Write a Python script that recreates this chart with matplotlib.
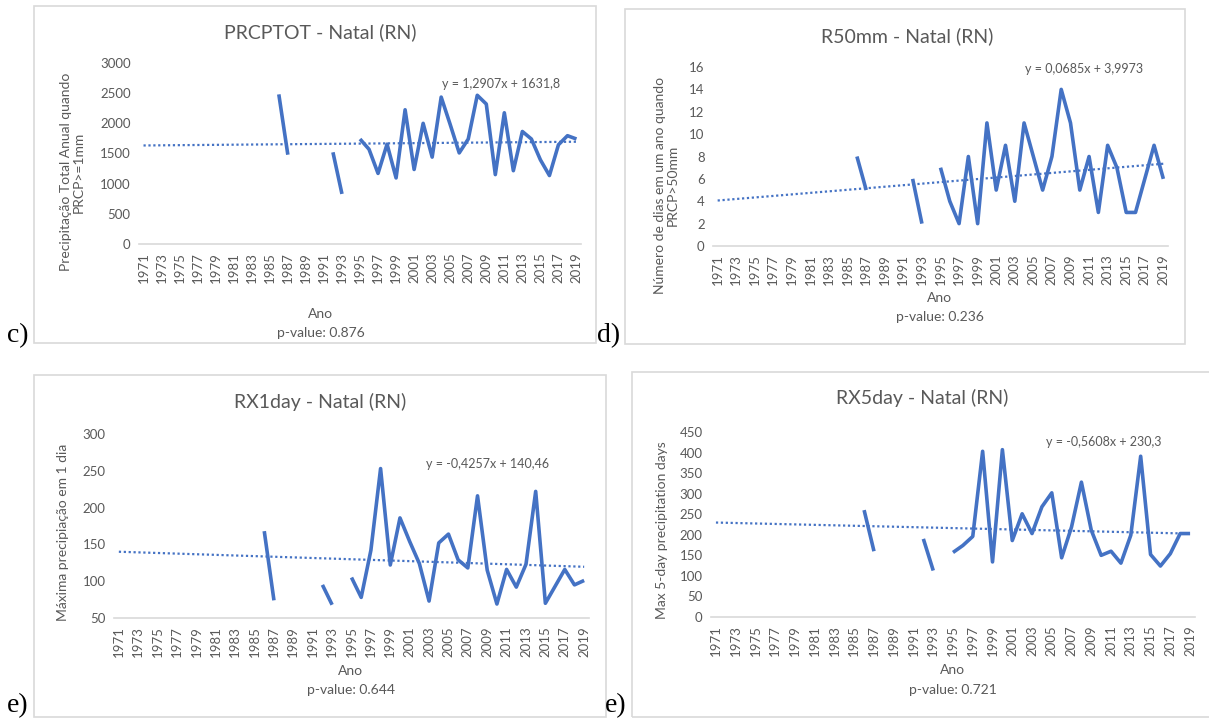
import numpy as np
import matplotlib.pyplot as plt
from matplotlib.patches import Rectangle

# data
years = list(range(1971, 2020))
obs_years = [1986, 1987, 1992, 1993] + list(range(1995, 2020))

prcptot = [2480, 1480, 1520, 830,
           1740, 1570, 1170, 1655, 1095, 2225, 1235, 2000, 1440, 2435, 1980, 1510,
           1740, 2465, 2320, 1150, 2175, 1215, 1865, 1740, 1395, 1135, 1645, 1795, 1740]
r50mm = [8, 5, 6, 2,
         7, 4, 2, 8, 2, 11, 5, 9, 4, 11, 8, 5,
         8, 14, 11, 5, 8, 3, 9, 7, 3, 3, 6, 9, 6]
rx1day = [168, 74, 95, 68,
          105, 78, 142, 253, 122, 186, 154, 124, 73, 152, 164, 129,
          118, 216, 115, 69, 116, 92, 123, 222, 70, 93, 116, 95, 101]
rx5day = [260, 160, 190, 113,
          157, 174, 196, 403, 134, 407, 186, 251, 203, 268, 302, 144,
          219, 328, 211, 150, 160, 131, 199, 391, 152, 124, 154, 203, 203]

panels = [
    dict(title='PRCPTOT - Natal (RN)', values=prcptot, slope=1.2907, icpt=1631.8,
         eq='y = 1,2907x + 1631,8', pval='p-value: 0.876',
         ylabel='Precipitação Total Anual quando\nPRCP>=1mm',
         ylim=(0, 3000), yticks=np.arange(0, 3001, 500)),
    dict(title='R50mm - Natal (RN)', values=r50mm, slope=0.0685, icpt=3.9973,
         eq='y = 0,0685x + 3,9973', pval='p-value: 0.236',
         ylabel='Número de dias em um ano quando\nPRCP>50mm',
         ylim=(0, 16), yticks=np.arange(0, 17, 2)),
    dict(title='RX1day - Natal (RN)', values=rx1day, slope=-0.4257, icpt=140.46,
         eq='y = -0,4257x + 140,46', pval='p-value: 0.644',
         ylabel='Máxima precipiação em 1 dia',
         ylim=(50, 300), yticks=np.arange(50, 301, 50)),
    dict(title='RX5day - Natal (RN)', values=rx5day, slope=-0.5608, icpt=230.3,
         eq='y = -0,5608x + 230,3', pval='p-value: 0.721',
         ylabel='Max 5-day precipitation days',
         ylim=(0, 450), yticks=np.arange(0, 451, 50)),
]

# layout in pixels (x0, x1, ytop, ybottom) for axes, boxes, and text spots
W, H = 1209, 727
axes_px = [(139, 581, 63, 244), (713, 1168, 67, 246), (114, 589, 434, 618), (711, 1195, 432, 617)]
box_px = [(34, 596, 6, 343), (625, 1185, 9, 344), (34, 606, 375, 717), (632, 1215, 372, 717)]
title_px = [(320, 32), (907, 36), (320, 402), (922, 398)]
eq_px = [(501, 84), (1084, 69), (488, 464), (1104, 442)]
ylab_px = [(72, 172), (666, 185), (63, 532), (662, 530)]
ano_px = [(321, 314), (940, 298), (351, 671), (953, 670)]
pval_px = [(321, 333), (940, 317), (351, 690), (953, 690)]
tag_px = [(7, 336, 'c)'), (597, 336, 'd)'), (7, 706, 'e)'), (605, 706, 'e)')]

blue = '#4472C4'
grey = '#595959'
font = 'Lato'

fig = plt.figure(figsize=(W / 100, H / 100), dpi=100)

def fx(x):
    return x / W

def fy(y):
    return 1 - y / H

x_all = np.arange(len(years))
tick_pos = x_all[::2]
tick_lab = [str(y) for y in years[::2]]

for i, p in enumerate(panels):
    bx0, bx1, by0, by1 = box_px[i]
    fig.patches.append(Rectangle((fx(bx0), fy(by1)), fx(bx1 - bx0), (by1 - by0) / H,
                                 transform=fig.transFigure, fill=False,
                                 edgecolor='#D9D9D9', linewidth=1.2))

    x0, x1, y0, y1 = axes_px[i]
    ax = fig.add_axes([fx(x0), fy(y1), fx(x1 - x0), (y1 - y0) / H])

    full = np.full(len(years), np.nan)
    for yr, v in zip(obs_years, p['values']):
        full[years.index(yr)] = v
    ax.plot(x_all, full, color=blue, linewidth=2.6, solid_capstyle='butt')

    trend = p['slope'] * (x_all + 1) + p['icpt']
    ax.plot(x_all, trend, color=blue, linewidth=1.6, linestyle=(0, (1, 1.2)))

    ax.set_xlim(-0.5, len(years) - 0.5)
    ax.set_ylim(*p['ylim'])
    ax.set_yticks(p['yticks'])
    ax.set_yticklabels([str(v) for v in p['yticks']], fontsize=9.5, color=grey, family=font)
    ax.set_xticks(tick_pos)
    ax.set_xticklabels(tick_lab, rotation=90, fontsize=9.5, color=grey, family=font)
    ax.tick_params(length=0, pad=6)
    for s in ['top', 'right', 'left']:
        ax.spines[s].set_visible(False)
    ax.spines['bottom'].set_color('#D9D9D9')
    ax.spines['bottom'].set_linewidth(1.2)
    ax.patch.set_alpha(0)

    tx, ty = title_px[i]
    fig.text(fx(tx), fy(ty), p['title'], ha='center', va='center', fontsize=14,
             color=grey, family=font)
    ex, ey = eq_px[i]
    fig.text(fx(ex), fy(ey), p['eq'], ha='center', va='center', fontsize=9,
             color=grey, family=font)
    lx, ly = ylab_px[i]
    fig.text(fx(lx), fy(ly), p['ylabel'], ha='center', va='center', rotation=90,
             fontsize=10, color=grey, family=font, linespacing=1.1)
    ax_, ay_ = ano_px[i]
    fig.text(fx(ax_), fy(ay_), 'Ano', ha='center', va='center', fontsize=10,
             color=grey, family=font)
    px_, py_ = pval_px[i]
    fig.text(fx(px_), fy(py_), p['pval'], ha='center', va='center', fontsize=10,
             color=grey, family=font)

for tx, ty, t in tag_px:
    fig.text(fx(tx), fy(ty), t, ha='left', va='center', fontsize=20,
             color='black', family='Liberation Serif')

fig.savefig('out.png', dpi=100)
